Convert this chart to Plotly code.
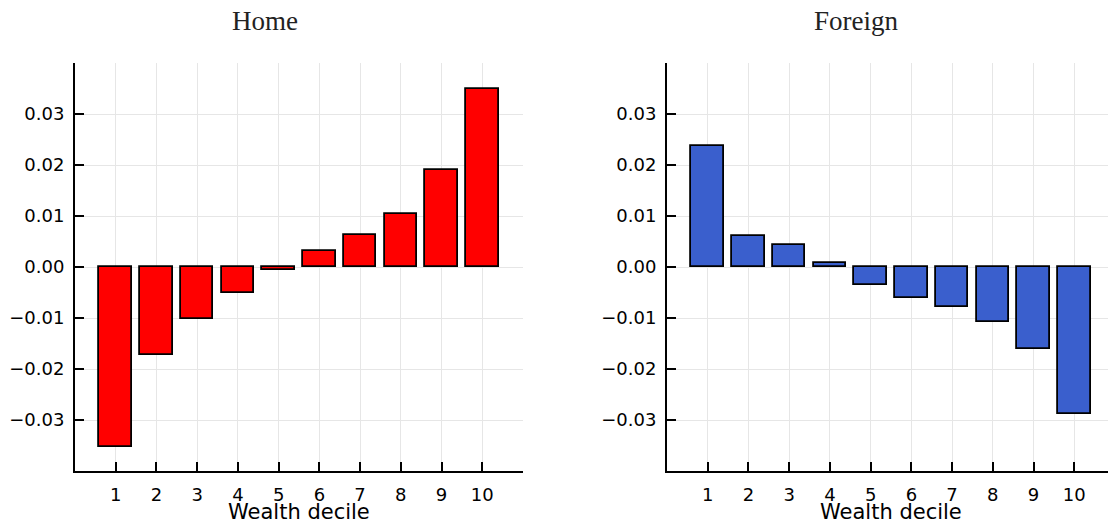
import plotly.graph_objects as go

# Change by wealth decile, two countries
deciles = [1, 2, 3, 4, 5, 6, 7, 8, 9, 10]
home = [-0.0352, -0.0172, -0.0102, -0.0050, -0.0006, 0.0032, 0.0063, 0.0104, 0.0190, 0.0350]
foreign = [0.0238, 0.0061, 0.0044, 0.0008, -0.0035, -0.0061, -0.0078, -0.0108, -0.0161, -0.0288]
y_ticks = [-0.03, -0.02, -0.01, 0.0, 0.01, 0.02, 0.03]
x_title = "Wealth decile"
panel_titles = ["Home", "Foreign"]

W, H = 1108, 530


def px_x(p):
    return p / W


def px_y(p):
    return 1 - p / H


fig = go.Figure()
fig.add_trace(go.Bar(x=deciles, y=home, width=0.8, marker=dict(color="#ff0000", line=dict(color="black", width=1.8)),
                     xaxis="x", yaxis="y", showlegend=False))
fig.add_trace(go.Bar(x=deciles, y=foreign, width=0.8, marker=dict(color="#3a5fcd", line=dict(color="black", width=1.8)),
                     xaxis="x2", yaxis="y2", showlegend=False))

tick_font = dict(family="DejaVu Sans", size=18, color="black")
common_x = dict(tickvals=deciles, ticks="inside", ticklen=9, tickwidth=1.5, tickcolor="black",
                showline=True, linecolor="black", linewidth=2, mirror=False,
                showgrid=True, gridcolor="#e6e6e6", gridwidth=1, zeroline=False,
                tickfont=tick_font, ticklabelstandoff=6)
common_y = dict(tickvals=y_ticks, tickformat=".2f", range=[-0.04, 0.04],
                ticks="inside", ticklen=9, tickwidth=1.5, tickcolor="black",
                showline=True, linecolor="black", linewidth=2, mirror=False,
                showgrid=True, gridcolor="#e6e6e6", gridwidth=1, zeroline=False,
                tickfont=tick_font, ticklabelstandoff=5)

y_dom = [px_y(471), px_y(63)]
fig.update_layout(
    width=W, height=H,
    margin=dict(l=0, r=0, t=0, b=0),
    paper_bgcolor="white", plot_bgcolor="white",
    xaxis=dict(domain=[px_x(75), px_x(523)], range=[0.0, 11.0], anchor="y", **common_x),
    yaxis=dict(domain=y_dom, anchor="x", **common_y),
    xaxis2=dict(domain=[px_x(667), 1.0], range=[0.0, 11.0 * (1108 - 667) / (523 - 75)], anchor="y2", **common_x),
    yaxis2=dict(domain=y_dom, anchor="x2", **common_y),
    bargap=0,
)

for title, cx in zip(panel_titles, [265, 856]):
    fig.add_annotation(text=title, x=px_x(cx), y=px_y(21), xref="paper", yref="paper",
                       xanchor="center", yanchor="middle", showarrow=False,
                       font=dict(family="Liberation Serif", size=27, color="#222222"))

for cx in [299, 891]:
    fig.add_annotation(text=x_title, x=px_x(cx), y=px_y(512), xref="paper", yref="paper",
                       xanchor="center", yanchor="middle", showarrow=False,
                       font=dict(family="DejaVu Sans", size=21, color="black"))

fig.write_html("out.html")
